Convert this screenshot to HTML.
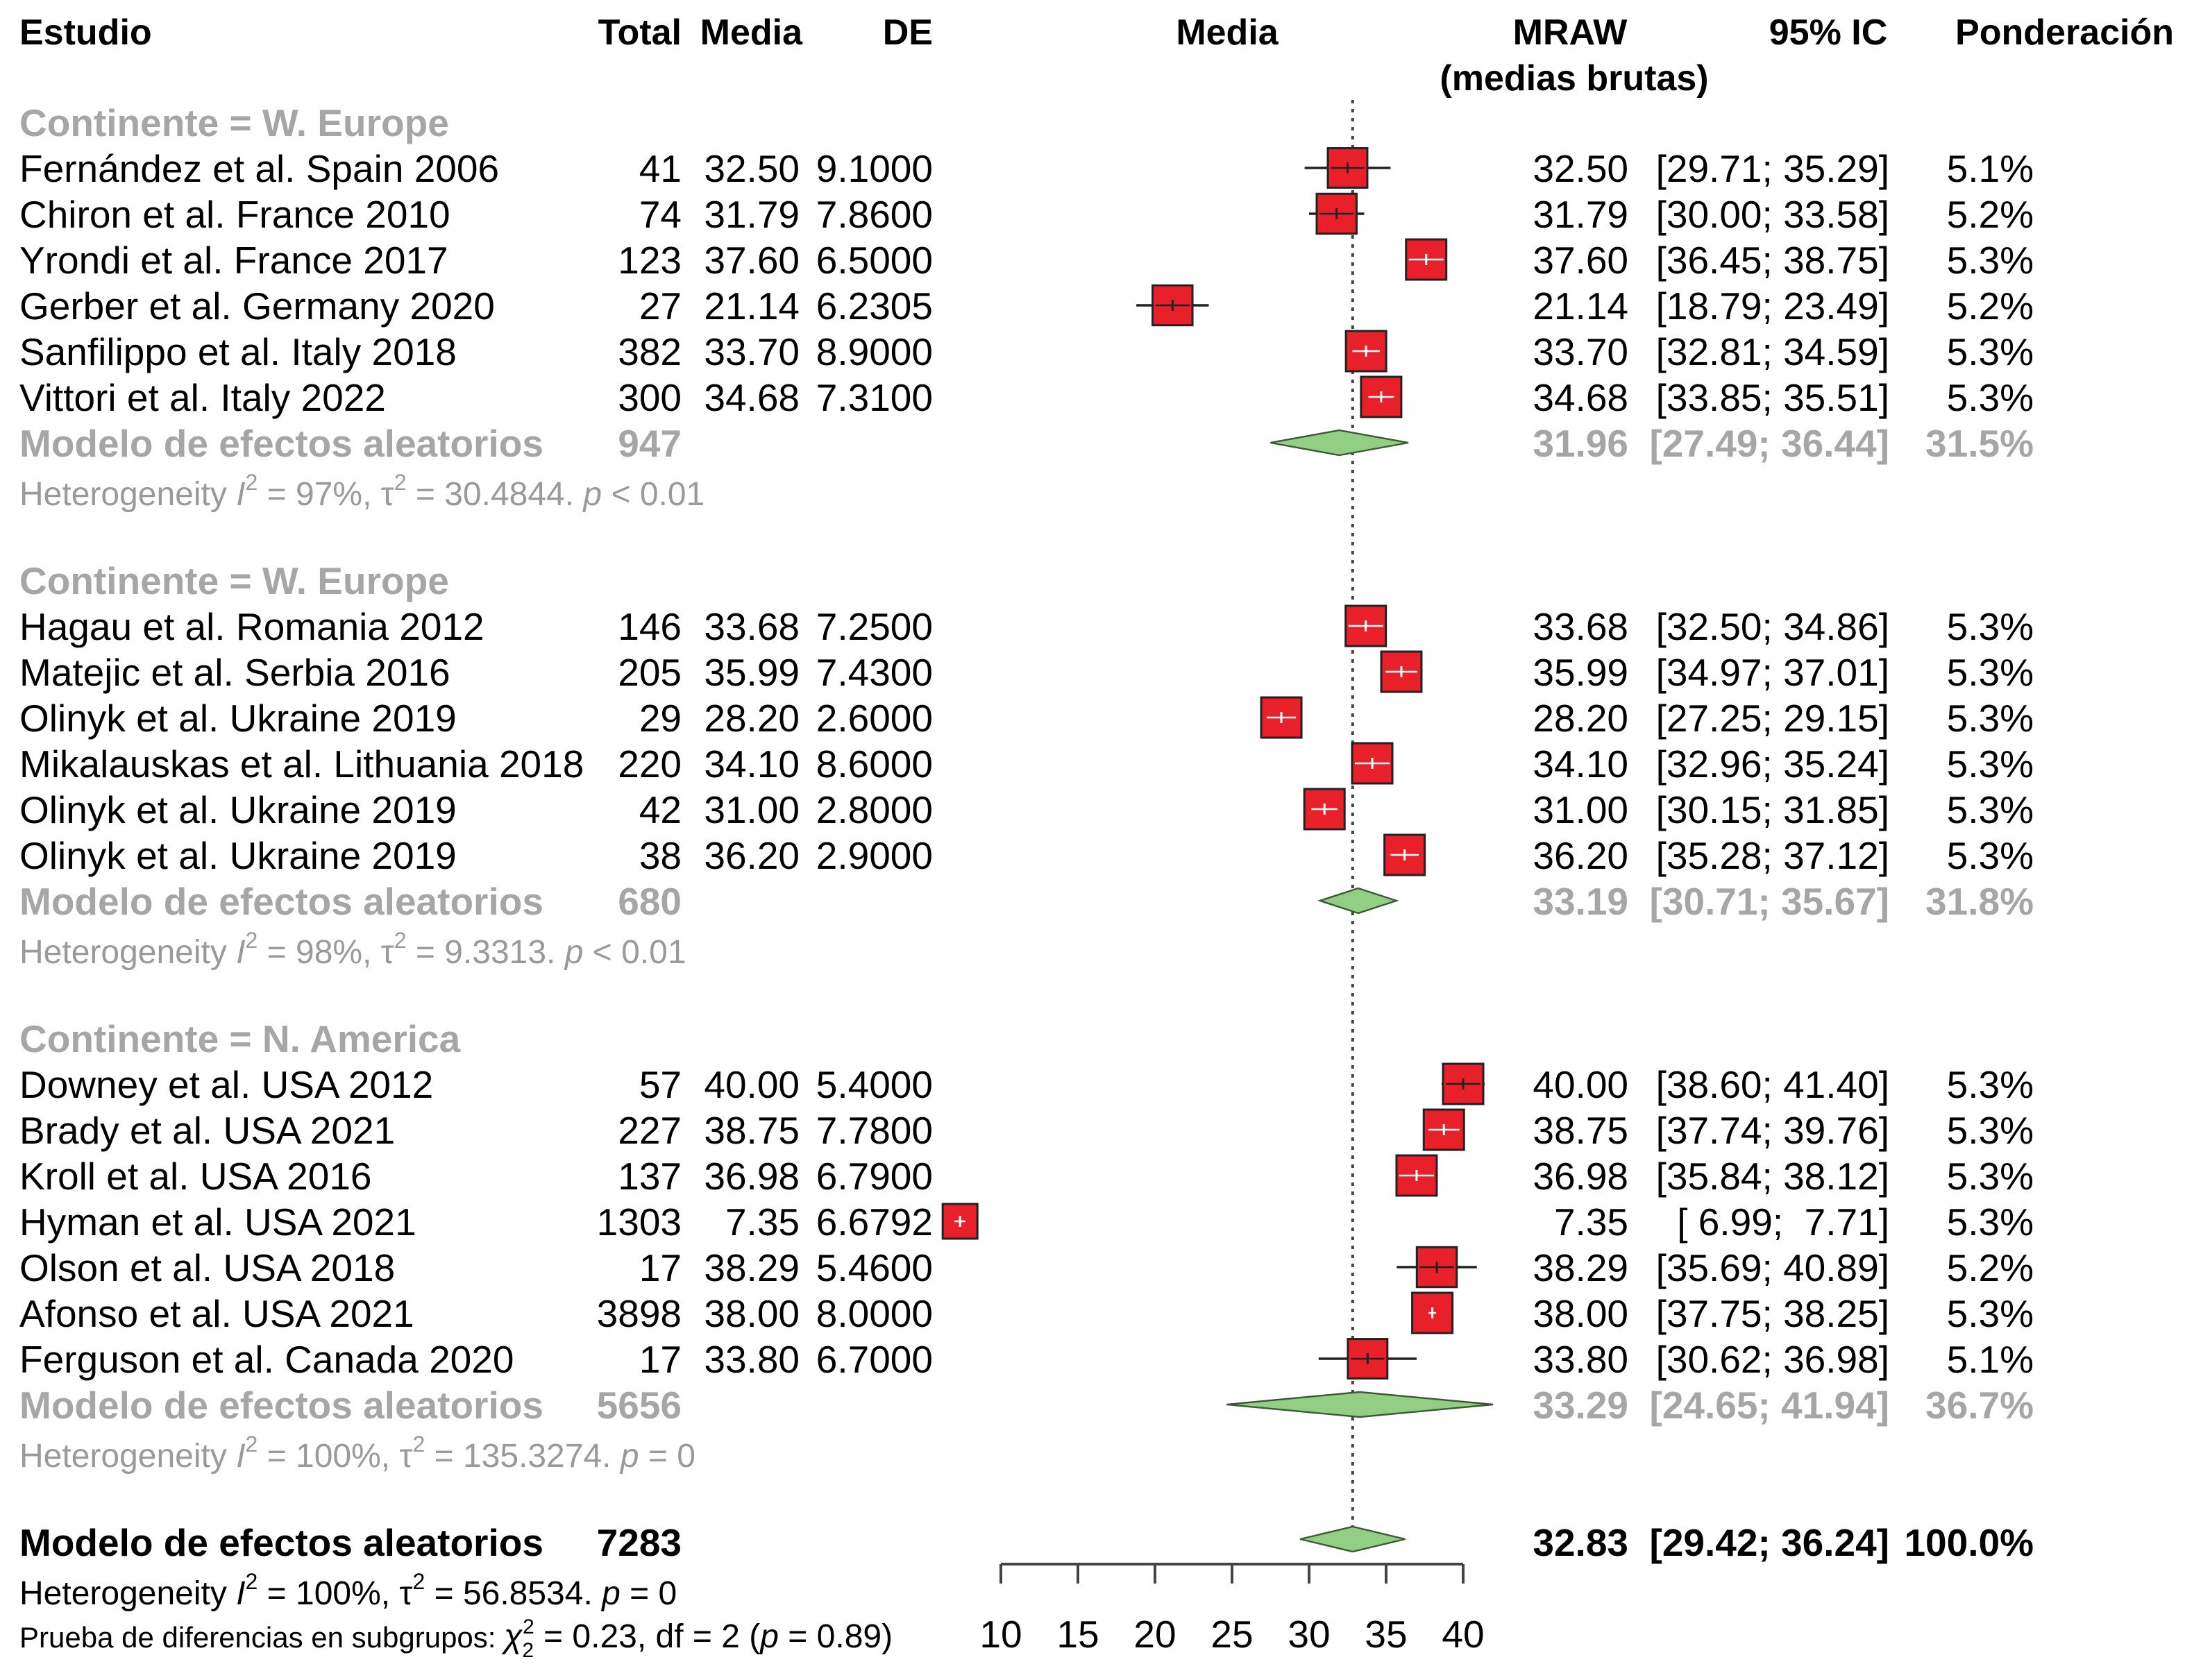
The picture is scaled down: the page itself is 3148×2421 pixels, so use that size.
<!DOCTYPE html>
<html><head><meta charset="utf-8"><style>
html,body{margin:0;padding:0;background:#fff}
svg{display:block}
text{font-family:"Liberation Sans",Arial,sans-serif;white-space:pre}
</style></head><body>
<svg id="chart" width="3148" height="2421" viewBox="0 0 1574 1210.5" xmlns="http://www.w3.org/2000/svg">
<g id="hdr" font-weight="bold" font-size="26" fill="#000">
<text x="14" y="32">Estudio</text>
<text x="491" y="32" text-anchor="end">Total</text>
<text x="578" y="32" text-anchor="end">Media</text>
<text x="672" y="32" text-anchor="end">DE</text>
<text x="884" y="32" text-anchor="middle">Media</text>
<text x="1131" y="32" text-anchor="middle">MRAW</text>
<text x="1134" y="65" text-anchor="middle">(medias brutas)</text>
<text x="1317" y="32" text-anchor="middle">95% IC</text>
<text x="1566" y="32" text-anchor="end">Ponderación</text>
</g>
<g id="plot"></g>
<g id="txt"></g>
</svg>
<script>
const studies = ["Fernández et al. Spain 2006","Chiron et al. France 2010","Yrondi et al. France 2017","Gerber et al. Germany 2020","Sanfilippo et al. Italy 2018","Vittori et al. Italy 2022","Hagau et al. Romania 2012","Matejic et al. Serbia 2016","Olinyk et al. Ukraine 2019","Mikalauskas et al. Lithuania 2018","Olinyk et al. Ukraine 2019","Olinyk et al. Ukraine 2019","Downey et al. USA 2012","Brady et al. USA 2021","Kroll et al. USA 2016","Hyman et al. USA 2021","Olson et al. USA 2018","Afonso et al. USA 2021","Ferguson et al. Canada 2020"];
const totals = [41,74,123,27,382,300,146,205,29,220,42,38,57,227,137,1303,17,3898,17];
const means = [32.50,31.79,37.60,21.14,33.70,34.68,33.68,35.99,28.20,34.10,31.00,36.20,40.00,38.75,36.98,7.35,38.29,38.00,33.80];
const sds = ["9.1000","7.8600","6.5000","6.2305","8.9000","7.3100","7.2500","7.4300","2.6000","8.6000","2.8000","2.9000","5.4000","7.7800","6.7900","6.6792","5.4600","8.0000","6.7000"];
const lower = [29.71,30.00,36.45,18.79,32.81,33.85,32.50,34.97,27.25,32.96,30.15,35.28,38.60,37.74,35.84,6.99,35.69,37.75,30.62];
const upper = [35.29,33.58,38.75,23.49,34.59,35.51,34.86,37.01,29.15,35.24,31.85,37.12,41.40,39.76,38.12,7.71,40.89,38.25,36.98];
const weights = [5.1,5.2,5.3,5.2,5.3,5.3,5.3,5.3,5.3,5.3,5.3,5.3,5.3,5.3,5.3,5.3,5.2,5.3,5.1];
const groupOf = [0,0,0,0,0,0,1,1,1,1,1,1,2,2,2,2,2,2,2];
const groupNames = ["Continente = W. Europe","Continente = W. Europe","Continente = N. America"];
const groupTotals = [947,680,5656];
const groupEst = [31.96,33.19,33.29];
const groupLo = [27.49,30.71,24.65];
const groupHi = [36.44,35.67,41.94];
const groupW = ["31.5%","31.8%","36.7%"];
const groupHet = [["97%","30.4844","p","< 0.01"],["98%","9.3313","p","< 0.01"],["100%","135.3274","p","= 0"]];
const overall = {total:7283, est:32.83, lo:29.42, hi:36.24, w:"100.0%"};
const ticks = [10,15,20,25,30,35,40];

const NS="http://www.w3.org/2000/svg";
const plot=document.getElementById('plot'), txt=document.getElementById('txt');
const x=v=>721+(v-10)*11.1;
const FS=27.5;
function mk(tag,attrs,parent,content){const e=document.createElementNS(NS,tag);for(const k in attrs)e.setAttribute(k,attrs[k]);if(content!==undefined)e.textContent=content;parent.appendChild(e);return e;}
function T(xx,yy,s,opt,parent){opt=opt||{};const e=mk('text',{x:xx,y:yy,'font-size':opt.fs||FS,fill:opt.fill||'#000','text-anchor':opt.anchor||'start','font-weight':opt.bold?'bold':'normal'},parent||txt,s);return e;}
const f2=v=>v.toFixed(2);
const ci=(a,b)=>'['+(a<10?' ':'')+f2(a)+'; '+(b<10?' ':'')+f2(b)+']';

const gStart=[88,418,748];
const GR='#a6a6a6';
const ref=mk('line',{x1:x(overall.est),x2:x(overall.est),y1:72,y2:1104,stroke:'#444','stroke-width':2,'stroke-dasharray':'2.5,4'},plot);



function diamond(est,lo,hi,cy,name){
  const p=mk('polygon',{points:`${x(lo)},${cy} ${x(est)},${cy-9} ${x(hi)},${cy} ${x(est)},${cy+9}`,fill:'#92cf84',stroke:'#3a5a34','stroke-width':1.2},plot);
  
  
}

let idx=0;
for(let g=0;g<3;g++){
  const hy=gStart[g];
  const gh=T(14,hy+10,groupNames[g],{bold:true,fill:GR});
  
  
  let r=0;
  while(idx<studies.length && groupOf[idx]===g){
    const cy=hy+33*(r+1), by=cy+10, i=idx;
    const lab=T(14,by,studies[i]);
    
    
    T(491,by,String(totals[i]),{anchor:'end'});
    T(576,by,f2(means[i]),{anchor:'end'});
    T(672,by,sds[i],{anchor:'end'});
    T(1173,by,f2(means[i]),{anchor:'end'});
    T(1361,by,ci(lower[i],upper[i]),{anchor:'end'});
    T(1465,by,weights[i].toFixed(1)+'%',{anchor:'end'});
    const s=(i===15?25:29)*Math.sqrt(weights[i]/5.3);
    const l=mk('line',{x1:x(lower[i]),x2:x(upper[i]),y1:cy,y2:cy,stroke:'#222','stroke-width':1.8},plot);
    
    
    const b=mk('rect',{x:x(means[i])-s/2,y:cy-s/2,width:s,height:s,fill:'#e8202a',stroke:'#222','stroke-width':1.5},plot);
    
    
    const inLo=Math.max(x(lower[i]),x(means[i])-s/2+2), inHi=Math.min(x(upper[i]),x(means[i])+s/2-2);
    const dark = (x(upper[i])-x(lower[i]))>s;
    mk('line',{x1:inLo,x2:inHi,y1:cy,y2:cy,stroke:dark?'#222':'#fff','stroke-width':1.2},plot);
    mk('line',{x1:x(means[i]),x2:x(means[i]),y1:cy-4,y2:cy+4,stroke:dark?'#222':'#fff','stroke-width':1.5},plot);
    idx++; r++;
  }
  const my=hy+33*(r+1), mb=my+10;
  const ml=T(14,mb,'Modelo de efectos aleatorios',{bold:true,fill:GR});
  
  
  T(491,mb,String(groupTotals[g]),{anchor:'end',bold:true,fill:GR});
  T(1173,mb,f2(groupEst[g]),{anchor:'end',bold:true,fill:GR});
  T(1361,mb,ci(groupLo[g],groupHi[g]),{anchor:'end',bold:true,fill:GR});
  T(1465,mb,groupW[g],{anchor:'end',bold:true,fill:GR});
  diamond(groupEst[g],groupLo[g],groupHi[g],my,'subgroup-diamond-'+(g+1));
  const het=groupHet[g];
  const ht=mk('text',{x:14,y:my+45,'font-size':24,fill:'#9a9a9a'},txt);
  
  
  ht.innerHTML=`Heterogeneity <tspan font-style="italic">I</tspan><tspan dy="-11" font-size="16">2</tspan><tspan dy="11"> = ${het[0]}, τ</tspan><tspan dy="-11" font-size="16">2</tspan><tspan dy="11"> = ${het[1]}. </tspan><tspan font-style="italic">${het[2]}</tspan> ${het[3]}`;
}
const oy=1111, ob=oy+10;
const ol=T(14,ob,'Modelo de efectos aleatorios',{bold:true});


T(491,ob,String(overall.total),{anchor:'end',bold:true});
T(1173,ob,f2(overall.est),{anchor:'end',bold:true});
T(1361,ob,ci(overall.lo,overall.hi),{anchor:'end',bold:true});
T(1465,ob,overall.w,{anchor:'end',bold:true});
diamond(overall.est,overall.lo,overall.hi,oy-2,'overall-diamond');
const oh=mk('text',{x:14,y:1156,'font-size':24,fill:'#000'},txt);


oh.innerHTML='Heterogeneity <tspan font-style="italic">I</tspan><tspan dy="-11" font-size="16">2</tspan><tspan dy="11"> = 100%, τ</tspan><tspan dy="-11" font-size="16">2</tspan><tspan dy="11"> = 56.8534. </tspan><tspan font-style="italic">p</tspan> = 0';
const st=mk('text',{x:14,y:1187,'font-size':21,fill:'#000'},txt);


st.innerHTML='Prueba de diferencias en subgrupos: <tspan font-style="italic" font-size="24">χ</tspan><tspan dy="7" font-size="15">2</tspan><tspan dy="-17" font-size="15" dx="-8">2</tspan><tspan dy="10" font-size="24"> = 0.23, df = 2 (</tspan><tspan font-style="italic" font-size="24">p</tspan><tspan font-size="24"> = 0.89)</tspan>';
const ax=mk('g',{},plot);


mk('line',{x1:x(ticks[0]),x2:x(ticks[ticks.length-1]),y1:1127,y2:1127,stroke:'#444','stroke-width':2},ax);
ticks.forEach(t=>{
  mk('line',{x1:x(t),x2:x(t),y1:1127,y2:1141,stroke:'#444','stroke-width':2},ax);
  const tl=mk('text',{x:x(t),y:1187,'font-size':FS,'text-anchor':'middle',fill:'#000'},ax,String(t));
  
  
});
</script>
</body></html>
